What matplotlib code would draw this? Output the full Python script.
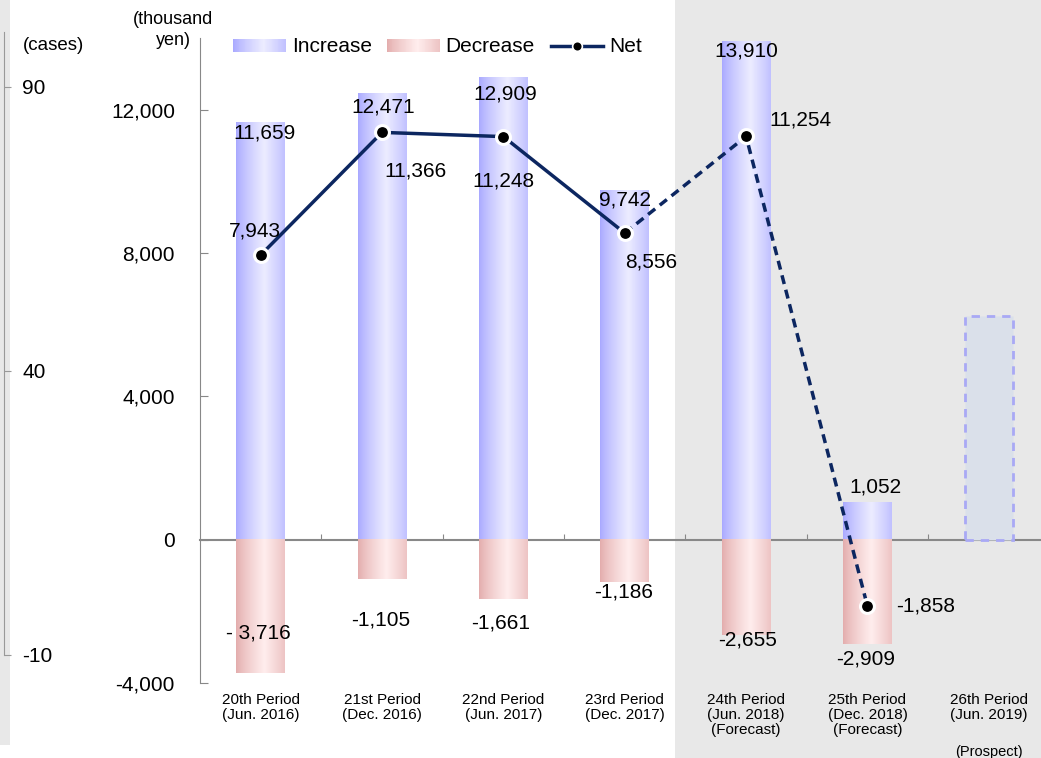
import matplotlib.pyplot as plt
import numpy as np
from matplotlib.colors import LinearSegmentedColormap
from matplotlib.legend_handler import HandlerBase
from matplotlib.lines import Line2D
from matplotlib.patches import Rectangle
from matplotlib.ticker import FuncFormatter

plt.rcParams["font.family"] = ["Liberation Sans", "DejaVu Sans"]
plt.rcParams["axes.unicode_minus"] = False

# data (thousand yen)
periods = [
    "20th Period\n(Jun. 2016)",
    "21st Period\n(Dec. 2016)",
    "22nd Period\n(Jun. 2017)",
    "23rd Period\n(Dec. 2017)",
    "24th Period\n(Jun. 2018)\n(Forecast)",
    "25th Period\n(Dec. 2018)\n(Forecast)",
    "26th Period\n(Jun. 2019)",
]
increase = [11659, 12471, 12909, 9742, 13910, 1052]
decrease = [-3716, -1105, -1661, -1186, -2655, -2909]
net = [7943, 11366, 11248, 8556, 11254, -1858]
dec_text = ["- 3,716", "-1,105", "-1,661", "-1,186", "-2,655", "-2,909"]
prospect = 6230  # placeholder box for the 26th period

# label offsets in points (x, y)
inc_off = [(3, -8), (1, -10), (1, -12), (0, -7), (0, -7), (6, 11)]
dec_off = [(-2, 29), (-1, -29), (-2, -17), (-1, -7), (1, -4), (-1, -11)]
net_off = [(-4, 17), (24, -28), (0, -32), (19, -21), (39, 12), (42, 0)]

blue_cmap = LinearSegmentedColormap.from_list("inc", ["#a9a9ff", "#ececff"])
pink_cmap = LinearSegmentedColormap.from_list("dec", ["#e3adad", "#ffeded"])
t = np.linspace(0, 1, 60)
profile = np.clip(1 - np.abs(t - 0.58) / 0.58, 0, 1) ** 0.8

W, H = 1041, 758
fig = plt.figure(figsize=(W / 100, H / 100), dpi=100)

# grey backgrounds
fig.add_artist(Rectangle((675 / W, 0), 1, 1, transform=fig.transFigure,
                         facecolor="#e8e8e8", edgecolor="none", zorder=-5))
fig.add_artist(Rectangle((0, 13 / H), 10 / W, 1, transform=fig.transFigure,
                         facecolor="#e8e8e8", edgecolor="none", zorder=-5))

ax = fig.add_axes([200 / W, (H - 683) / H, (W - 200) / W, (683 - 38) / H])
ax.set_facecolor("none")

x = np.arange(len(increase))
w = 0.4
for xi, v in zip(x, increase):
    ax.imshow(profile.reshape(1, -1), cmap=blue_cmap, vmin=0, vmax=1,
              extent=(xi - w / 2, xi + w / 2, 0, v), aspect="auto",
              interpolation="bilinear", zorder=2)
for xi, v in zip(x, decrease):
    ax.imshow(profile.reshape(1, -1), cmap=pink_cmap, vmin=0, vmax=1,
              extent=(xi - w / 2, xi + w / 2, v, 0), aspect="auto",
              interpolation="bilinear", zorder=2)

# prospect box
ax.add_patch(Rectangle((6 - w / 2, 0), w, prospect, facecolor="#dae0ea",
                       edgecolor="#a9a9f5", linestyle=(0, (3, 2.5)), lw=2, zorder=2))

navy = "#0c2660"
ax.plot(x[:4], net[:4], color=navy, lw=2.5, zorder=4)
ax.plot(x[3:], net[3:], color=navy, lw=2.5, ls=(0, (2.6, 1.7)), zorder=4)
ax.plot(x, net, "o", color="black", ms=10, mec="white", mew=2.2, zorder=5)

fs = 15
for xi, v, off in zip(x, increase, inc_off):
    ax.annotate(f"{v:,}", (xi, v), xytext=off, textcoords="offset points",
                ha="center", va="center", fontsize=fs, zorder=6)
for xi, v, s, off in zip(x, decrease, dec_text, dec_off):
    ax.annotate(s, (xi, v), xytext=off, textcoords="offset points",
                ha="center", va="center", fontsize=fs, zorder=6)
for xi, v, off in zip(x, net, net_off):
    ax.annotate(f"{v:,}", (xi, v), xytext=off, textcoords="offset points",
                ha="center", va="center", fontsize=fs, zorder=6)

ax.set_xlim(-0.5, 6.43)
ax.set_ylim(-4000, 14000)
ax.set_yticks(np.arange(-4000, 12001, 4000))
ax.yaxis.set_major_formatter(FuncFormatter(lambda v, p: f"{int(v):,}"))
ax.tick_params(axis="y", direction="in", length=6, color="#888888",
               labelsize=fs, pad=18)
ax.set_xticks(x.tolist() + [6])
ax.set_xticklabels(periods, fontsize=11, linespacing=1.1)
ax.tick_params(axis="x", length=0, pad=7)
for s in ["top", "right", "bottom"]:
    ax.spines[s].set_visible(False)
ax.spines["left"].set_color("#888888")

ax.annotate("(Prospect)", (6, 0), xycoords=("data", "axes fraction"),
            xytext=(0, -50), textcoords="offset points",
            ha="center", va="center", fontsize=10.5)

# zero line with small ticks between periods
zero = ax.secondary_xaxis(4000 / 18000)
zero.set_xticks(np.arange(0.5, 6, 1))
zero.set_xticklabels([])
zero.tick_params(direction="in", length=4, color="#888888")
for s in ["top", "bottom"]:
    zero.spines[s].set_color("#888888")
    zero.spines[s].set_linewidth(1.5)

# legend with gradient patches
class GradientHandler(HandlerBase):
    def __init__(self, cmap):
        super().__init__()
        self.cmap = cmap

    def create_artists(self, legend, orig_handle, xdescent, ydescent,
                       width, height, fontsize, trans):
        n = len(profile)
        return [Rectangle((-xdescent + width * i / n, -ydescent), width / n + 0.3,
                          height, facecolor=self.cmap(profile[i]), lw=0,
                          transform=trans) for i in range(n)]

h_inc = Rectangle((0, 0), 1, 1, label="Increase")
h_dec = Rectangle((0, 0), 1, 1, label="Decrease")
h_net = Line2D([], [], color=navy, lw=2.5, marker="o", mfc="black",
               mec="white", ms=7, mew=1.2, label="Net")
fig.legend(handles=[h_inc, h_dec, h_net],
           handler_map={h_inc: GradientHandler(blue_cmap),
                        h_dec: GradientHandler(pink_cmap)},
           loc="center left", bbox_to_anchor=(225 / W, 1 - 47 / H), ncol=3,
           frameon=False, fontsize=fs, handlelength=2.5, handleheight=0.6,
           handletextpad=0.3, columnspacing=0.75, borderaxespad=0)

# left "cases" axis
axc = fig.add_axes([4 / W, (H - 655) / H, 0.0001, (655 - 32) / H])
axc.set_facecolor("none")
axc.set_ylim(-10, -10 + (655 - 32) / 5.68)
axc.set_xticks([])
axc.set_yticks([90, 40, -10])
axc.yaxis.set_ticks_position("right")
axc.tick_params(axis="y", direction="out", length=5, color="#999999",
                labelsize=fs, pad=8)
for s in ["top", "left", "bottom"]:
    axc.spines[s].set_visible(False)
axc.spines["right"].set_color("#999999")

fig.text(53 / W, 1 - 46 / H, "(cases)", ha="center", va="center", fontsize=13.5)
fig.text(173 / W, 1 - 30 / H, "(thousand\nyen)", ha="center", va="center",
         fontsize=13, linespacing=1.3)

fig.savefig("out.png", dpi=100)
